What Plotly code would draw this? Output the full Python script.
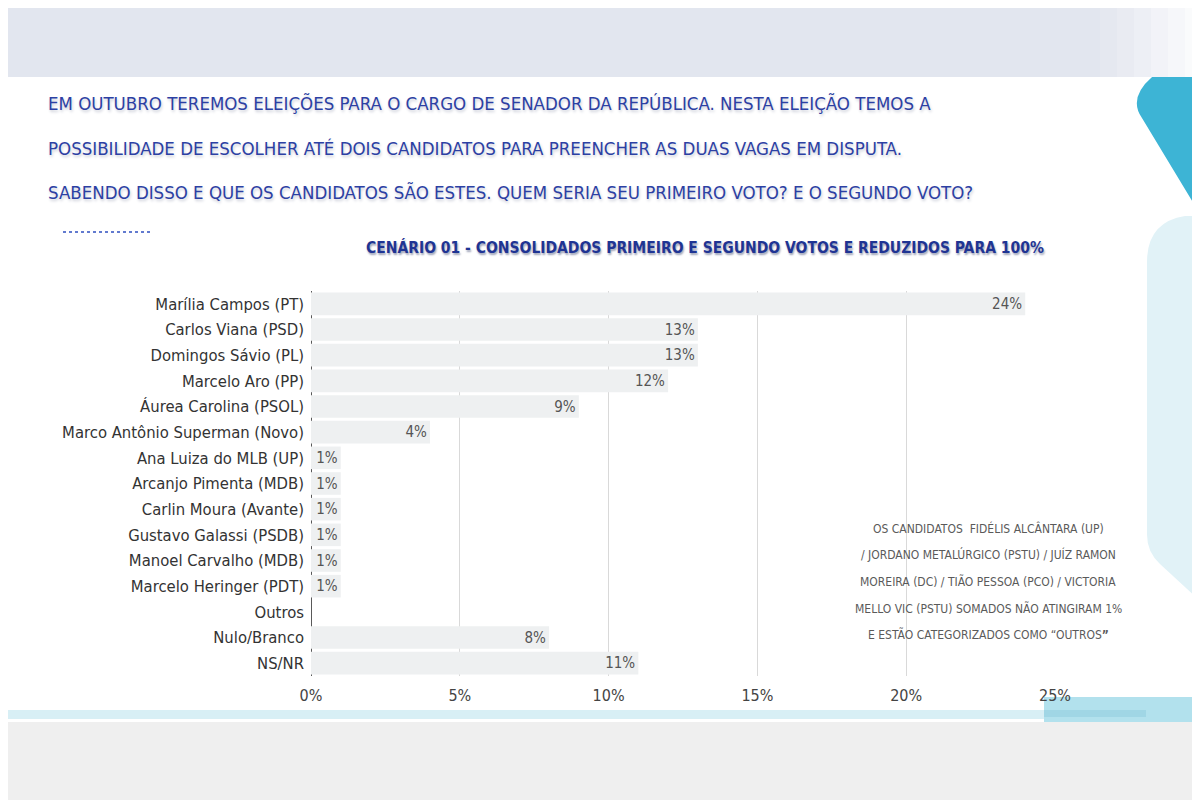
import plotly.graph_objects as go

# dados do cenário 01 (primeiro e segundo votos, reduzidos para 100%)
candidatos = [
    "Marília Campos (PT)",
    "Carlos Viana (PSD)",
    "Domingos Sávio (PL)",
    "Marcelo Aro (PP)",
    "Áurea Carolina (PSOL)",
    "Marco Antônio Superman (Novo)",
    "Ana Luiza do MLB (UP)",
    "Arcanjo Pimenta (MDB)",
    "Carlin Moura (Avante)",
    "Gustavo Galassi (PSDB)",
    "Manoel Carvalho (MDB)",
    "Marcelo Heringer (PDT)",
    "Outros",
    "Nulo/Branco",
    "NS/NR",
]
percentuais = [24, 13, 13, 12, 9, 4, 1, 1, 1, 1, 1, 1, 0, 8, 11]

x_ticks = [0, 5, 10, 15, 20, 25]
x_tick_labels = ["0%", "5%", "10%", "15%", "20%", "25%"]

pergunta = [
    "EM OUTUBRO TEREMOS ELEIÇÕES PARA O CARGO DE SENADOR DA REPÚBLICA. NESTA ELEIÇÃO TEMOS A",
    "POSSIBILIDADE DE ESCOLHER ATÉ DOIS CANDIDATOS PARA PREENCHER AS DUAS VAGAS EM DISPUTA.",
    "SABENDO DISSO E QUE OS CANDIDATOS SÃO ESTES. QUEM SERIA SEU PRIMEIRO VOTO? E O SEGUNDO VOTO?",
]
titulo = "CENÁRIO 01 - CONSOLIDADOS PRIMEIRO E SEGUNDO VOTOS E REDUZIDOS PARA 100%"
nota = [
    "OS CANDIDATOS  FIDÉLIS ALCÂNTARA (UP)",
    "/ JORDANO METALÚRGICO (PSTU) / JUÍZ RAMON",
    "MOREIRA (DC) / TIÃO PESSOA (PCO) / VICTORIA",
    "MELLO VIC (PSTU) SOMADOS NÃO ATINGIRAM 1%",
    "E ESTÃO CATEGORIZADOS COMO “OUTROS<b>”</b>",
]

# a página tem 8px de margem no body: tudo é deslocado para compensar
OFF = 8
W, H = 1192, 792
L = 311 - OFF
R = W - (1055 - OFF)
T = 291 - OFF
B = H - (676 - OFF)
FONTE = "DejaVu Sans Condensed, Liberation Sans Narrow, sans-serif"


def px_x(px):
    return (px - OFF - L) / (W - L - R)


def px_y(py):
    return (H - B - (py - OFF)) / (H - T - B)


rotulos = [f"{v}%" if v > 0 else "" for v in percentuais]

fig = go.Figure(
    go.Bar(
        x=percentuais,
        y=candidatos,
        orientation="h",
        marker=dict(color="#eef0f1", line=dict(width=0)),
        width=0.88,
        text=rotulos,
        textposition="inside",
        insidetextanchor="end",
        constraintext="none",
        insidetextfont=dict(family=FONTE, size=15, color="#555555"),
        hoverinfo="x+y",
    )
)

shapes = []
# faixa superior
shapes.append(dict(type="rect", xref="paper", yref="paper", x0=px_x(0), x1=px_x(1100),
                   y0=px_y(0), y1=px_y(77), fillcolor="#e2e6ef", line=dict(width=0), layer="below"))
for i, c in enumerate(["#e5e8f0", "#e9ebf2", "#edeff5", "#f2f3f8", "#f6f7fa", "#fafbfc"]):
    shapes.append(dict(type="rect", xref="paper", yref="paper", x0=px_x(1100 + i * 17),
                       x1=px_x(1117 + i * 17), y0=px_y(0), y1=px_y(77),
                       fillcolor=c, line=dict(width=0), layer="below"))
# faixa inferior
shapes.append(dict(type="rect", xref="paper", yref="paper", x0=px_x(0), x1=px_x(1210),
                   y0=px_y(722), y1=px_y(810), fillcolor="#efefef", line=dict(width=0), layer="below"))
shapes.append(dict(type="rect", xref="paper", yref="paper", x0=px_x(0), x1=px_x(1210),
                   y0=px_y(710), y1=px_y(719), fillcolor="#d8eff5", line=dict(width=0), layer="below"))
shapes.append(dict(type="rect", xref="paper", yref="paper", x0=px_x(1044), x1=px_x(1210),
                   y0=px_y(697), y1=px_y(722), fillcolor="#b2e1ed", line=dict(width=0), layer="below"))
shapes.append(dict(type="rect", xref="paper", yref="paper", x0=px_x(1044), x1=px_x(1146),
                   y0=px_y(710), y1=px_y(717), fillcolor="#a0d6e5", line=dict(width=0), layer="below"))


def caminho(pontos):
    partes = []
    for i, p in enumerate(pontos):
        if p[0] == "Q":
            partes.append(f"Q {px_x(p[1]):.4f},{px_y(p[2]):.4f} {px_x(p[3]):.4f},{px_y(p[4]):.4f}")
        else:
            partes.append(f"{'M' if i == 0 else 'L'} {px_x(p[0]):.4f},{px_y(p[1]):.4f}")
    return " ".join(partes) + " Z"


# formas decorativas à direita
shapes.append(dict(type="path", xref="paper", yref="paper",
                   path=caminho([(1152, 77), (1210, 77), (1210, 220), (1200, 214), (1142, 118),
                                 ("Q", 1128, 98, 1152, 77)]),
                   fillcolor="#3db4d5", line=dict(width=0), layer="below"))
shapes.append(dict(type="path", xref="paper", yref="paper",
                   path=caminho([(1210, 216), (1185, 216), ("Q", 1147, 222, 1147, 262),
                                 (1147, 535), ("Q", 1147, 552, 1160, 564), (1210, 610)]),
                   fillcolor="#e1f2f7", line=dict(width=0), layer="below"))
# traço pontilhado
shapes.append(dict(type="line", xref="paper", yref="paper", x0=px_x(63), x1=px_x(151),
                   y0=px_y(232), y1=px_y(232), line=dict(color="#2f4fc0", width=1.5, dash="dot")))

annotations = []
for i, linha in enumerate(pergunta):
    annotations.append(dict(text=linha, xref="paper", yref="paper", x=px_x(46), y=px_y(104 + i * 44),
                            xanchor="left", yanchor="middle", showarrow=False,
                            font=dict(family=FONTE, size=18.5, color="#2c40a3",
                                      shadow="1px 2px 3px #c8cbd6")))
annotations.append(dict(text=f"<b>{titulo}</b>", xref="paper", yref="paper", x=px_x(705), y=px_y(247),
                        xanchor="center", yanchor="middle", showarrow=False,
                        font=dict(family=FONTE, size=15.5, color="#1f3493",
                                  shadow="1px 2px 2px #9ea3b8")))
for i, linha in enumerate(nota):
    annotations.append(dict(text=linha, xref="paper", yref="paper", x=px_x(988), y=px_y(528 + i * 26.7),
                            xanchor="center", yanchor="middle", showarrow=False,
                            font=dict(family=FONTE, size=12, color="#5a5a5a")))

fig.update_layout(
    width=W,
    height=H,
    margin=dict(l=L, r=R, t=T, b=B, autoexpand=False),
    paper_bgcolor="white",
    plot_bgcolor="rgba(0,0,0,0)",
    showlegend=False,
    shapes=shapes,
    annotations=annotations,
    xaxis=dict(
        range=[0, 25],
        tickvals=x_ticks,
        ticktext=x_tick_labels,
        showgrid=True,
        gridcolor="#d9d9d9",
        gridwidth=1,
        zeroline=True,
        zerolinecolor="#595959",
        zerolinewidth=1,
        showline=False,
        layer="below traces",
        ticklabelstandoff=8,
        tickfont=dict(family=FONTE, size=16, color="#444444"),
    ),
    yaxis=dict(
        autorange="reversed",
        showgrid=False,
        showline=False,
        ticks="",
        ticklabelstandoff=6,
        tickfont=dict(family=FONTE, size=16.5, color="#333333"),
    ),
)

fig.write_html("out.html")
